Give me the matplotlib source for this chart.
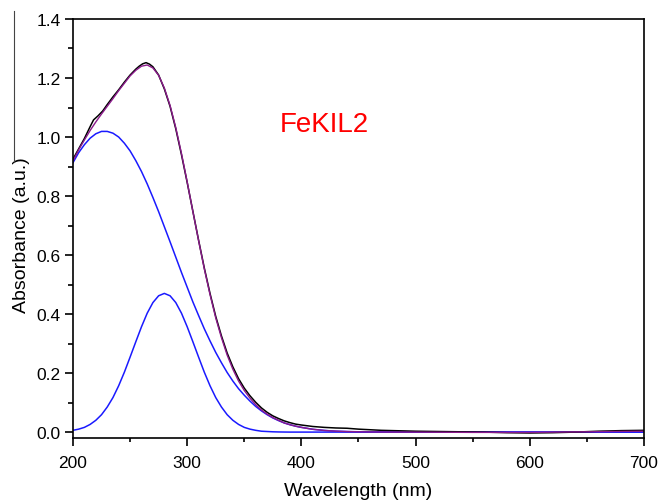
import matplotlib
matplotlib.use('Agg')
import matplotlib.pyplot as plt
from matplotlib.lines import Line2D
from matplotlib.ticker import MultipleLocator, FormatStrFormatter

plt.rcParams['font.family'] = ['Liberation Sans', 'DejaVu Sans']

# wavelength grid (nm) for the components and the fit
wl = [200, 205, 210, 215, 220, 225, 230, 235, 240, 245, 250, 255, 260, 265,
      270, 275, 280, 285, 290, 295, 300, 305, 310, 315, 320, 325, 330, 335,
      340, 345, 350, 355, 360, 365, 370, 375, 380, 385, 390, 395, 400, 410,
      420, 430, 440, 450, 460, 480, 500, 550, 600, 650, 700]

# first component (blue, peak ~228 nm)
band1 = [0.913, 0.947, 0.974, 0.996, 1.011, 1.019, 1.019, 1.013, 1.000, 0.979,
         0.953, 0.920, 0.883, 0.841, 0.795, 0.747, 0.696, 0.645, 0.593, 0.541,
         0.491, 0.441, 0.395, 0.350, 0.309, 0.270, 0.235, 0.202, 0.173, 0.147,
         0.125, 0.105, 0.087, 0.072, 0.059, 0.048, 0.039, 0.031, 0.025, 0.020,
         0.016, 0.0095, 0.0056, 0.0032, 0.0018, 0.001, 0.0005, 0.0001, 0.0,
         0.0, 0.0, 0.0, 0.0]

# second component (blue, peak ~280 nm)
band2 = [0.006, 0.010, 0.016, 0.026, 0.040, 0.059, 0.085, 0.117, 0.157, 0.203,
         0.254, 0.306, 0.357, 0.403, 0.439, 0.462, 0.470, 0.462, 0.439, 0.403,
         0.357, 0.306, 0.254, 0.203, 0.157, 0.117, 0.085, 0.059, 0.040, 0.026,
         0.016, 0.010, 0.006, 0.003, 0.002, 0.001, 0.0005, 0.0002, 0.0, 0.0,
         0.0, 0.0, 0.0, 0.0, 0.0, 0.0, 0.0, 0.0, 0.0, 0.0, 0.0, 0.0, 0.0]

# cumulative fit (purple)
fit = [0.919, 0.957, 0.990, 1.022, 1.051, 1.078, 1.104, 1.130, 1.157, 1.182,
       1.207, 1.226, 1.240, 1.244, 1.234, 1.209, 1.166, 1.107, 1.032, 0.944,
       0.848, 0.747, 0.649, 0.553, 0.466, 0.387, 0.320, 0.261, 0.213, 0.173,
       0.141, 0.115, 0.093, 0.075, 0.061, 0.049, 0.040, 0.031, 0.025, 0.020,
       0.016, 0.0095, 0.0056, 0.0032, 0.0018, 0.001, 0.0005, 0.0, 0.0,
       -0.001, -0.001, 0.001, 0.003]

# measured spectrum (black)
wl_meas = [200, 205, 210, 215, 218, 222, 226, 230, 235, 240, 245, 250, 255,
           258, 261, 264, 267, 270, 275, 280, 285, 290, 295, 300, 305, 310,
           315, 320, 325, 330, 335, 340, 345, 350, 355, 360, 365, 370, 375,
           380, 385, 390, 395, 400, 410, 420, 430, 440, 450, 460, 470, 480,
           500, 520, 540, 560, 580, 600, 620, 640, 660, 680, 700]
absorb = [0.925, 0.960, 0.995, 1.035, 1.058, 1.072, 1.088, 1.110, 1.136,
          1.160, 1.186, 1.210, 1.230, 1.240, 1.248, 1.252, 1.247, 1.238,
          1.210, 1.163, 1.104, 1.028, 0.940, 0.846, 0.748, 0.650, 0.556,
          0.470, 0.392, 0.326, 0.268, 0.221, 0.181, 0.149, 0.123, 0.101,
          0.082, 0.067, 0.055, 0.046, 0.038, 0.032, 0.027, 0.024, 0.019,
          0.016, 0.014, 0.013, 0.010, 0.008, 0.006, 0.005, 0.003, 0.002,
          0.001, 0.0, -0.002, -0.003, -0.002, 0.0, 0.003, 0.005, 0.006]

fig = plt.figure(figsize=(6.61, 5.02), dpi=100)
ax = fig.add_axes([0.1104, 0.1255, 0.8639, 0.8347])

ax.plot(wl, band1, color='#1a1aff', lw=1.1)
ax.plot(wl, band2, color='#1a1aff', lw=1.1)
ax.plot(wl_meas, absorb, color='black', lw=1.1)
ax.plot(wl, fit, color='#8b1a8b', lw=1.0)

ax.set_xlim(200, 700)
ax.set_ylim(-0.02, 1.4)
ax.xaxis.set_major_locator(MultipleLocator(100))
ax.xaxis.set_minor_locator(MultipleLocator(50))
ax.yaxis.set_major_locator(MultipleLocator(0.2))
ax.yaxis.set_minor_locator(MultipleLocator(0.1))
ax.yaxis.set_major_formatter(FormatStrFormatter('%.1f'))

ax.tick_params(which='both', direction='out', width=1.2, labelsize=12.5,
               top=False, right=False)
ax.tick_params(axis='y', which='major', length=6, pad=3)
ax.tick_params(axis='y', which='minor', length=3.5)
ax.tick_params(axis='x', which='major', length=6, pad=6)
ax.tick_params(axis='x', which='minor', length=3)
for s in ax.spines.values():
    s.set_linewidth(1.2)

ax.set_xlabel('Wavelength (nm)', fontsize=14)
ax.set_ylabel('Absorbance (a.u.)', fontsize=14)
ax.xaxis.set_label_coords(0.5, -0.105)
ax.yaxis.set_label_coords(-0.075, 0.487)

ax.text(420, 1.045, 'FeKIL2', color='red', fontsize=20, ha='center', va='center')

# thin leftover border line at the left edge of the scan
fig.add_artist(Line2D([14 / 661, 14 / 661], [1 - 12 / 502, 1 - 163 / 502],
                      transform=fig.transFigure, color='#444444', lw=0.8))

plt.savefig('out.png', dpi=100)
